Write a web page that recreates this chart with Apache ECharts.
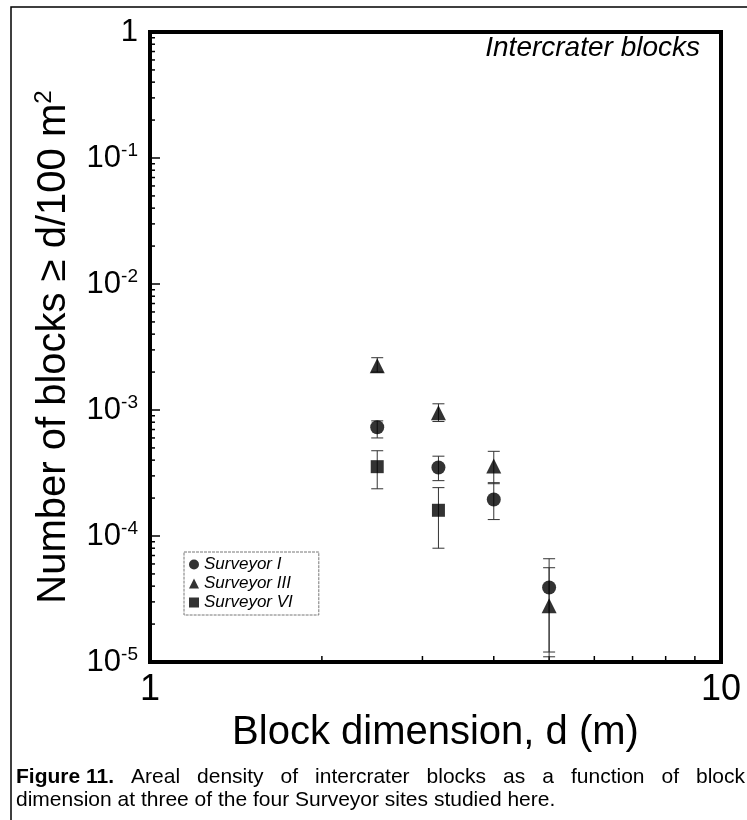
<!DOCTYPE html>
<html>
<head>
<meta charset="utf-8">
<script src="https://cdn.jsdelivr.net/npm/echarts@6/dist/echarts.min.js"></script>
<style>
  html, body { margin: 0; padding: 0; background: #fff; }
  #chart { width: 747px; height: 820px; }
</style>
</head>
<body>
<div id="chart"></div>
<script>
// block dimension d (m)
var dims = [2.5, 3.2, 4, 5]

// Surveyor I (circles)
var s1Val  = [7.3e-4, 3.5e-4, 1.95e-4, 3.9e-5]
var s1Low  = [6.0e-4, 2.75e-4, 1.35e-4, 1.2e-5]
var s1High = [8.2e-4, 4.3e-4, 2.65e-4, 6.6e-5]

// Surveyor III (triangles)
var s3Val  = [2.25e-3, 9.5e-4, 3.6e-4, 2.8e-5]
var s3Low  = [2.0e-3, 8.1e-4, 2.6e-4, 1.1e-5]
var s3High = [2.6e-3, 1.12e-3, 4.7e-4, 5.6e-5]

// Surveyor VI (squares), only the two smallest sizes
var s6Dims = [2.5, 3.2]
var s6Val  = [3.55e-4, 1.6e-4]
var s6Low  = [2.37e-4, 8.0e-5]
var s6High = [4.75e-4, 2.42e-4]

// axis tick values
var xMinorTicks = [2, 3, 4, 5, 6, 7, 8, 9]
var yDecades = [1e-5, 1e-4, 1e-3, 1e-2, 1e-1]
var yMinorSteps = [2, 3, 4, 5, 6, 7, 8, 9]

var FONT = 'Liberation Sans'
var captionBold = 'Figure 11.'
var captionLine1 = 'Areal density of intercrater blocks as a function of block'
var captionLine2 = 'dimension at three of the four Surveyor sites studied here.'

function pts(xs, ys) {
  return xs.map(function (x, i) { return [x, ys[i]] })
}
function bars(xs, lo, hi) {
  return xs.map(function (x, i) { return [x, lo[i], hi[i]] })
}

function renderErr(params, api) {
  var x = api.value(0)
  var a = api.coord([x, api.value(1)])
  var b = api.coord([x, api.value(2)])
  var w = 6
  var st = { stroke: '#333', lineWidth: 1 }
  return {
    type: 'group',
    children: [
      { type: 'line', shape: { x1: a[0], y1: a[1], x2: b[0], y2: b[1] }, style: st },
      { type: 'line', shape: { x1: a[0] - w, y1: a[1], x2: a[0] + w, y2: a[1] }, style: st },
      { type: 'line', shape: { x1: b[0] - w, y1: b[1], x2: b[0] + w, y2: b[1] }, style: st }
    ]
  }
}

// minor ticks (log spaced), drawn inward from the left and bottom axes
function renderTicks(params, api) {
  var kids = []
  var st = { stroke: '#000', lineWidth: 1.5 }
  xMinorTicks.forEach(function (v) {
    var p = api.coord([v, 1e-5])
    kids.push({ type: 'line', shape: { x1: p[0], y1: p[1], x2: p[0], y2: p[1] - 6 }, style: st })
  })
  yDecades.forEach(function (d) {
    yMinorSteps.forEach(function (m) {
      var p = api.coord([1, d * m])
      kids.push({ type: 'line', shape: { x1: p[0], y1: p[1], x2: p[0] + 5, y2: p[1] }, style: st })
    })
  })
  return { type: 'group', children: kids }
}

// caption: first line justified between the figure edges
function captionGraphics() {
  var ctx = document.createElement('canvas').getContext('2d')
  var fBold = 'bold 21px "Liberation Sans"'
  var fReg = '21px "Liberation Sans"'
  var left = 16, right = 745, y1 = 767, y2 = 790
  var words = captionLine1.split(' ')
  ctx.font = fBold
  var wBold = ctx.measureText(captionBold).width
  ctx.font = fReg
  var widths = words.map(function (w) { return ctx.measureText(w).width })
  var total = wBold + widths.reduce(function (s, w) { return s + w }, 0)
  var gap = (right - left - total) / words.length
  var out = [{ type: 'text', left: left, top: y1, style: { text: captionBold, font: fBold, fill: '#000' } }]
  var x = left + wBold + gap
  words.forEach(function (w, i) {
    out.push({ type: 'text', left: x, top: y1, style: { text: w, font: fReg, fill: '#000' } })
    x += widths[i] + gap
  })
  out.push({ type: 'text', left: left, top: y2, style: { text: captionLine2, font: fReg, fill: '#000' } })
  return out
}

var chart = echarts.init(document.getElementById('chart'))

var option = {
  backgroundColor: '#fff',
  animation: false,
  textStyle: { fontFamily: FONT, color: '#000' },
  grid: {
    left: 150, top: 32, right: 26, bottom: 158,
    show: true, borderWidth: 4, borderColor: '#000'
  },
  legend: {
    left: 184, top: 552,
    orient: 'vertical',
    itemWidth: 10, itemHeight: 10, itemGap: 2,
    padding: [4, 26, 4, 5],
    borderColor: '#777', borderWidth: 1, borderType: [3, 1],
    textStyle: { fontFamily: FONT, fontStyle: 'italic', fontSize: 17, color: '#000' },
    data: ['Surveyor I', 'Surveyor III', 'Surveyor VI']
  },
  xAxis: {
    type: 'log', logBase: 10, min: 1, max: 10,
    name: 'Block dimension, d (m)',
    nameLocation: 'middle', nameGap: 48,
    nameTextStyle: { fontFamily: FONT, fontSize: 40, color: '#000' },
    axisLine: { show: false },
    axisTick: { show: false },
    splitLine: { show: false },
    axisLabel: { fontFamily: FONT, fontSize: 36, color: '#000', margin: 10 }
  },
  yAxis: {
    type: 'log', logBase: 10, min: 1e-5, max: 1,
    name: '{t|Number of blocks \u2265 d/100 m}{s|2}',
    nameLocation: 'middle', nameGap: 74, nameRotate: 90,
    nameTextStyle: {
      rich: {
        t: { fontFamily: FONT, fontSize: 40, color: '#000', lineHeight: 44 },
        s: { fontFamily: FONT, fontSize: 24, color: '#000', verticalAlign: 'top', lineHeight: 22 }
      }
    },
    axisLine: { show: false },
    axisTick: { show: true, inside: true, length: 10, lineStyle: { color: '#000', width: 1.5 } },
    splitLine: { show: false },
    axisLabel: {
      margin: 12,
      formatter: function (v) {
        var e = Math.round(Math.log10(v))
        if (e === 0) return '{b|1}'
        return '{b|10}{e|' + e + '}'
      },
      rich: {
        b: { fontFamily: FONT, fontSize: 31, color: '#000', lineHeight: 34 },
        e: { fontFamily: FONT, fontSize: 19, color: '#000', verticalAlign: 'top', lineHeight: 14 }
      }
    }
  },
  graphic: [
    { type: 'polyline', shape: { points: [[11, 820], [11, 7], [747, 7]] }, style: { stroke: '#000', lineWidth: 1.5, fill: null } },
    { type: 'text', right: 47, top: 34, style: { text: 'Intercrater blocks', font: 'italic 28px "Liberation Sans"', fill: '#000' } }
  ].concat(captionGraphics()),
  series: [
    { type: 'custom', name: 'ticks', renderItem: renderTicks, data: [[1, 1]], silent: true, z: 1 },
    { type: 'custom', name: 'err1', renderItem: renderErr, data: bars(dims, s1Low, s1High), encode: { x: 0, y: [1, 2] }, z: 2 },
    { type: 'custom', name: 'err3', renderItem: renderErr, data: bars(dims, s3Low, s3High), encode: { x: 0, y: [1, 2] }, z: 2 },
    { type: 'custom', name: 'err6', renderItem: renderErr, data: bars(s6Dims, s6Low, s6High), encode: { x: 0, y: [1, 2] }, z: 2 },
    { type: 'scatter', name: 'Surveyor I', symbol: 'circle', symbolSize: 14, itemStyle: { color: '#000' }, data: pts(dims, s1Val), z: 3 },
    { type: 'scatter', name: 'Surveyor III', symbol: 'triangle', symbolSize: 15, itemStyle: { color: '#000' }, data: pts(dims, s3Val), z: 3 },
    { type: 'scatter', name: 'Surveyor VI', symbol: 'rect', symbolSize: 13, itemStyle: { color: '#000' }, data: pts(s6Dims, s6Val), z: 3 }
  ]
}

chart.setOption(option)
</script>
</body>
</html>
